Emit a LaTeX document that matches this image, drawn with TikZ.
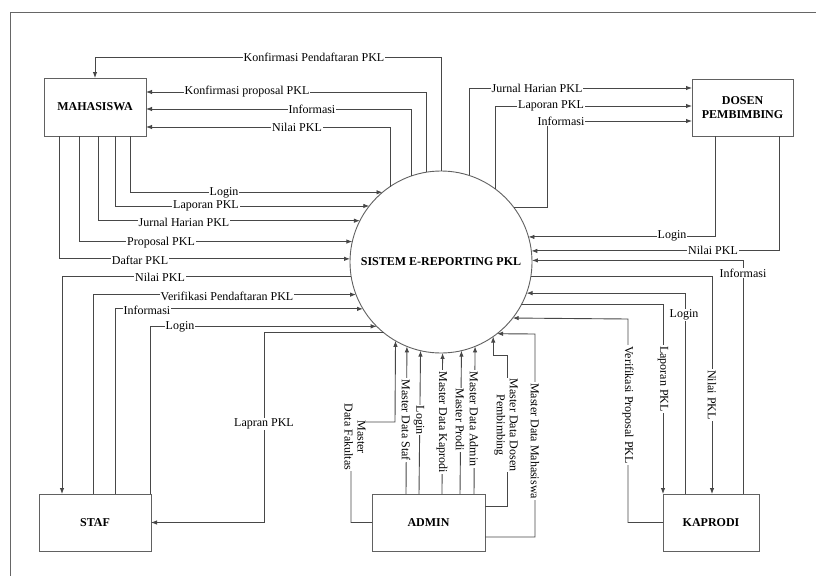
\documentclass[tikz,border=0pt]{standalone}
\usepackage{fontspec}
\setmainfont{Liberation Serif}
\usetikzlibrary{arrows.meta}
\begin{document}
\begin{tikzpicture}[x=1pt,y=-1pt,
  ln/.style={draw=black!72, line width=0.9pt},
  flow/.style={ln, -{Latex[length=6pt,width=4.5pt]}},
  lbl/.style={fill=white, inner sep=1pt, font=\fontsize{12}{13}\selectfont},
  vlbl/.style={lbl, rotate=-90, align=center},
  ent/.style={draw=black!62, line width=1pt, font=\bfseries\fontsize{12}{14}\selectfont, align=center, inner sep=0, outer sep=0}]
\useasboundingbox (0,0) rectangle (816,576);
\fill[white] (0,0) rectangle (816,576);
% frame
\coordinate (fa) at (816,12);
\coordinate (fb) at (10,12);
\coordinate (fc) at (10,576);
\draw[draw=black!60, line width=1pt] (fa) -- (fb) -- (fc);

% entities
\node[ent, minimum width=102pt, minimum height=58pt] (mah) at (95,107) {MAHASISWA};
\node[ent, minimum width=101pt, minimum height=57pt] (dos) at (742.5,107.5) {DOSEN\\PEMBIMBING};
\node[ent, minimum width=112pt, minimum height=57pt] (staf) at (95,522.5) {STAF};
\node[ent, minimum width=113pt, minimum height=57pt] (adm) at (428.5,522.5) {ADMIN};
\node[ent, minimum width=96pt, minimum height=57pt] (kap) at (711,522.5) {KAPRODI};
\node[ent, circle, minimum size=182pt, line width=0.9pt] (sys) at (441,262) {SISTEM E-REPORTING PKL};

% circle -> MAHASISWA
\draw[flow] (sys.90) |- (95,57) -- (mah.north);
\draw[flow] (sys.99.49) |- (mah.east |- 0,92);
\draw[flow] (sys.109.25) |- (mah.east |- 0,109);
\draw[flow] (sys.124.85) |- (mah.east |- 0,127);
% MAHASISWA -> circle
\draw[flow] (130,0 |- mah.south) |- (sys.130.7);
\draw[flow] (115,0 |- mah.south) |- (sys.142.0);
\draw[flow] (98,0 |- mah.south) |- (sys.153.9);
\draw[flow] (79,0 |- mah.south) |- (sys.167.95);
\draw[flow] (59,0 |- mah.south) |- (sys.178.7);
% circle -> DOSEN
\draw[flow] (sys.72.08) |- (dos.west |- 0,88);
\draw[flow] (sys.53.60) |- (dos.west |- 0,106);
\draw[flow] (sys.37.19) -| (547,121) -- (dos.west |- 0,121);
% DOSEN -> circle
\draw[flow] (715,0 |- dos.south) |- (sys.16.60);
\draw[flow] (779,0 |- dos.south) |- (sys.7.58);
% KAPRODI
\draw[flow] (743,0 |- kap.north) |- (sys.1.26);
\draw[flow] (sys.-9.49) -| (712,0 |- kap.north);
\draw[flow] (685,0 |- kap.north) |- (sys.-20.59);
\draw[flow] (sys.-28.91) -| (kap.north west);
\draw[flow] (kap.west) -| (628,319) -- (sys.-38.78);
% ADMIN
\draw[flow] (adm.west) -| (351,422) -- (395,422) -- (sys.-120.36);
\draw[flow] (406,0 |- adm.north) -- (sys.-112.62);
\draw[flow] (419,0 |- adm.north) -- (sys.-103.99);
\draw[flow] (442,0 |- adm.north) -- (sys.-89.37);
\draw[flow] (460,0 |- adm.north) -- (sys.-77.95);
\draw[flow] (474,0 |- adm.north) -- (sys.-68.74);
\draw[flow] (adm.east |- 0,506) -| (507,355) -| (sys.-55.15);
\draw[flow] (adm.east |- 0,537) -| (535,334) -- (sys.-52.29);
% STAF
\draw[flow] (sys.189.5) -| (62,0 |- staf.north);
\draw[flow] (93,0 |- staf.north) |- (sys.201.9);
\draw[flow] (115,0 |- staf.north) |- (sys.211.8);
\draw[flow] (150,0 |- staf.north) |- (sys.225.6);
\draw[flow] (sys.231.3) -| (264,522.5) -- (staf.east);

% labels
\node[lbl] (t1) at (314,57) {Konfirmasi Pendaftaran PKL};
\node[lbl] (t2) at (247,92) {Konfirmasi proposal PKL};
\node[lbl] (t3) at (312,109) {Informasi};
\node[lbl] (t4) at (297,127) {Nilai PKL};
\node[lbl] (t5) at (224,193) {Login};
\node[lbl] (t6) at (206,206) {Laporan PKL};
\node[lbl] (t7) at (184,222) {Jurnal Harian PKL};
\node[lbl] (t8) at (161,243) {Proposal PKL};
\node[lbl] (t9) at (140,260) {Daftar PKL};
\node[lbl] (t10) at (537,88) {Jurnal Harian PKL};
\node[lbl] (t11) at (551,106) {Laporan PKL};
\node[lbl] (t12) at (561,121) {Informasi};
\node[lbl] (t13) at (672,236) {Login};
\node[lbl] (t14) at (713,250) {Nilai PKL};
\node[lbl] (t15) at (743,273) {Informasi};
\node[vlbl] (t16) at (712,395) {Nilai PKL};
\node[lbl] (t17) at (684,315) {Login};
\node[vlbl] (t18) at (663,379) {Laporan PKL};
\node[vlbl] (t19) at (628,405) {Verifikasi Proposal PKL};
\node[vlbl] (t20) at (355,437) {Master\\Data Fakultas};
\node[vlbl] (t21) at (406,420) {Master Data Staf};
\node[vlbl] (t22) at (419,420) {Login};
\node[vlbl] (t23) at (442,422) {Master Data Kaprodi};
\node[vlbl] (t24) at (460,420) {Master Prodi};
\node[vlbl] (t25) at (474,419) {Master Data Admin};
\node[vlbl] (t26) at (506,425) {Master Data Dosen\\Pembimbing};
\node[vlbl] (t27) at (535,441) {Master Data Mahasiswa};
\node[lbl] (t28) at (160,277) {Nilai PKL};
\node[lbl] (t29) at (227,296) {Verifikasi Pendaftaran PKL};
\node[lbl] (t30) at (147,310) {Informasi};
\node[lbl] (t31) at (180,327) {Login};
\node[lbl] (t32) at (264,424) {Lapran PKL};
\end{tikzpicture}
\end{document}
